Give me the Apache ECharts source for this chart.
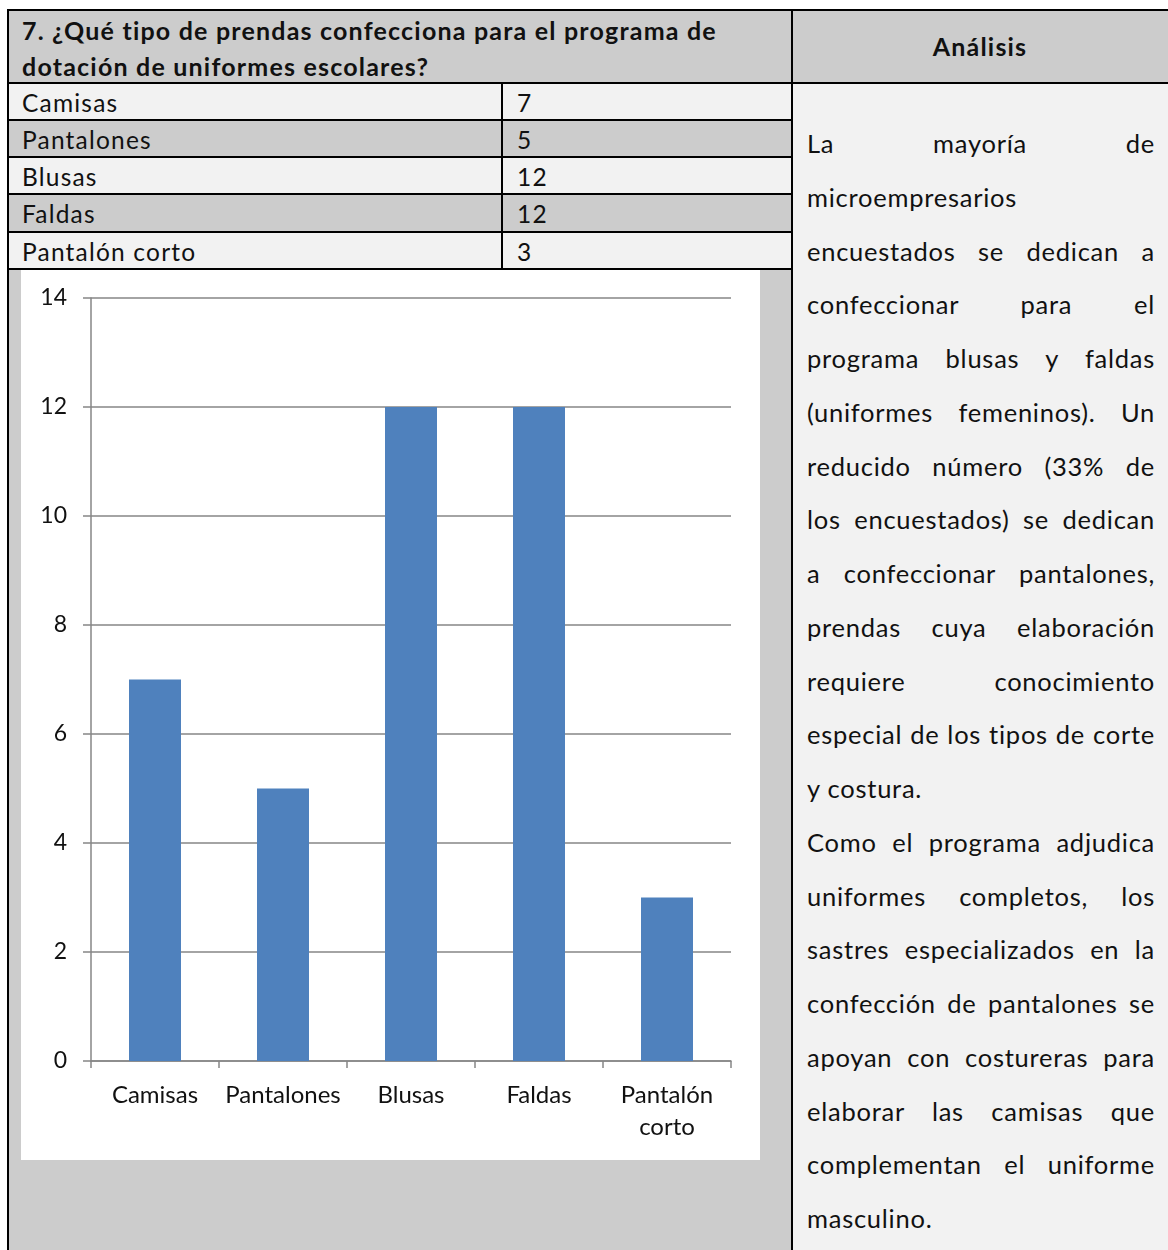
<!DOCTYPE html>
<html>
<head>
<meta charset="utf-8">
<script src="https://cdn.jsdelivr.net/npm/echarts@6/dist/echarts.min.js"></script>
<style>
  body { margin: 0; background: #fff; font-family: Lato, "Open Sans", sans-serif; color: #111; }
  #page { position: relative; width: 1168px; height: 1250px; overflow: hidden; }
  .box { position: absolute; }
  .line { position: absolute; background: #000; }
  .hdr { background: #cccccc; font-weight: bold; font-size: 25px; letter-spacing: 1.2px; }
  .row { position: absolute; left: 9px; width: 782px; font-size: 24.5px; letter-spacing: 1.2px; }
  .row span { position: absolute; top: 50%; transform: translateY(-50%); }
  #analysis { position: absolute; left: 807px; top: 83px; width: 348px; font-size: 25.5px; letter-spacing: 0.75px; line-height: 53.75px; padding-top: 34px; }
  #analysis div { white-space: nowrap; }
  #analysis .j { text-align: justify; text-align-last: justify; }
  #chart { position: absolute; left: 21px; top: 270px; width: 739px; height: 890px; background: #fff; }
</style>
</head>
<body>
<div id="page">
  <!-- backgrounds -->
  <div class="box hdr" style="left:8px;top:10px;width:784px;height:73px;"></div>
  <div class="box hdr" style="left:792px;top:10px;width:376px;height:73px;"></div>
  <div class="box" style="left:8px;top:269px;width:784px;height:981px;background:#cccccc;"></div>
  <div class="box" style="left:792px;top:83px;width:376px;height:1167px;background:#f2f2f2;"></div>
  <div id="rows"></div>

  <div class="box" style="left:22px;top:12px;width:770px;font-weight:bold;font-size:25px;letter-spacing:1.2px;line-height:36px;white-space:nowrap;">7. ¿Qué tipo de prendas confecciona para el programa de<br>dotación de uniformes escolares?</div>
  <div class="box" style="left:792px;top:10px;width:376px;height:73px;line-height:73px;text-align:center;font-weight:bold;font-size:25px;letter-spacing:1.2px;">Análisis</div>

  <div id="analysis"></div>
  <div id="chart"></div>

  <!-- rules -->
  <div class="line" style="left:7px;top:9px;width:2px;height:1241px;"></div>
  <div class="line" style="left:7px;top:9px;width:1161px;height:2px;"></div>
  <div class="line" style="left:791px;top:9px;width:2px;height:1241px;"></div>
  <div class="line" style="left:7px;top:82px;width:1161px;height:2px;"></div>
  <div class="line" style="left:501px;top:82px;width:2px;height:188px;"></div>
  <div id="rules"></div>
</div>

<script>
const categories = ['Camisas', 'Pantalones', 'Blusas', 'Faldas', 'Pantalón corto']
const values = [7, 5, 12, 12, 3]
const yTicks = { min: 0, max: 14, interval: 2 }

const analysisLines = [
  ['La mayoría de', true],
  ['microempresarios', false],
  ['encuestados se dedican a', true],
  ['confeccionar para el', true],
  ['programa blusas y faldas', true],
  ['(uniformes femeninos). Un', true],
  ['reducido número (33% de', true],
  ['los encuestados) se dedican', true],
  ['a confeccionar pantalones,', true],
  ['prendas cuya elaboración', true],
  ['requiere conocimiento', true],
  ['especial de los tipos de corte', true],
  ['y costura.', false],
  ['Como el programa adjudica', true],
  ['uniformes completos, los', true],
  ['sastres especializados en la', true],
  ['confección de pantalones se', true],
  ['apoyan con costureras para', true],
  ['elaborar las camisas que', true],
  ['complementan el uniforme', true],
  ['masculino.', false],
]

// table rows + horizontal rules
const rowEdges = [83, 120, 157, 194, 232, 269]
const rowsEl = document.getElementById('rows')
const rulesEl = document.getElementById('rules')
categories.forEach((c, i) => {
  const top = rowEdges[i], h = rowEdges[i + 1] - top
  const r = document.createElement('div')
  r.className = 'row'
  r.style.top = top + 'px'
  r.style.height = h + 'px'
  r.style.background = i % 2 ? '#cccccc' : '#f2f2f2'
  r.innerHTML = `<span style="left:13px">${c}</span><span style="left:508px">${values[i]}</span>`
  rowsEl.appendChild(r)
  const l = document.createElement('div')
  l.className = 'line'
  l.style.cssText = `left:7px;top:${rowEdges[i + 1] - 1}px;width:786px;height:2px;`
  rulesEl.appendChild(l)
})

const an = document.getElementById('analysis')
analysisLines.forEach(([t, j]) => {
  const d = document.createElement('div')
  d.textContent = t
  if (j) d.className = 'j'
  an.appendChild(d)
})

const chart = echarts.init(document.getElementById('chart'), null, { renderer: 'canvas' })
const axisColor = '#868686'
chart.setOption({
  animation: false,
  grid: { left: 70, right: 29, top: 28, bottom: 99 },
  xAxis: {
    type: 'category',
    data: categories,
    axisLine: { lineStyle: { color: axisColor, width: 1.5 } },
    axisTick: { show: true, length: 7, lineStyle: { color: axisColor, width: 1.5 } },
    axisLabel: {
      color: '#111', fontSize: 24, fontFamily: 'Lato', margin: 18, lineHeight: 32,
      interval: 0,
      formatter: v => v.replace(' ', '\n'),
    },
  },
  yAxis: {
    type: 'value',
    min: yTicks.min, max: yTicks.max, interval: yTicks.interval,
    axisLine: { show: true, lineStyle: { color: axisColor, width: 1.5 } },
    axisTick: { show: true, length: 8, lineStyle: { color: axisColor, width: 1.5 } },
    axisLabel: { color: '#111', fontSize: 23, fontFamily: 'Lato', margin: 24 },
    splitLine: { lineStyle: { color: axisColor, width: 1.5 } },
  },
  series: [{
    type: 'bar',
    data: values,
    barWidth: 52,
    itemStyle: { color: '#4f81bd' },
  }],
})
</script>
</body>
</html>
